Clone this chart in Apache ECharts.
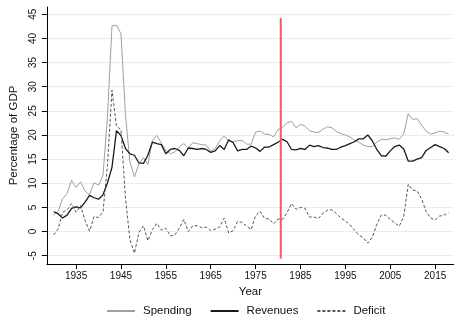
<!DOCTYPE html>
<html>
<head>
<meta charset="utf-8">
<script src="https://cdn.jsdelivr.net/npm/echarts@6/dist/echarts.min.js"></script>
<style>
  html, body { margin: 0; padding: 0; background: #fff; }
  #chart { width: 454px; height: 317px; }
</style>
</head>
<body>
<div id="chart"></div>
<script>
// years 1930 .. 2018
var firstYear = 1930;

var spending = [3.4, 4.2, 6.8, 7.9, 10.6, 9.1, 10.3, 8.4, 7.6, 10.1,
    9.6, 11.7, 23.8, 42.6, 42.7, 41.0, 24.2, 14.4, 11.3, 14.0,
    15.3, 13.9, 18.9, 19.9, 18.3, 16.8, 16.1, 16.5, 17.5, 18.2,
    17.3, 18.4, 18.2, 18.0, 17.9, 16.6, 17.2, 18.8, 19.8, 18.7,
    18.6, 18.8, 18.9, 18.1, 18.1, 20.6, 20.8, 20.2, 20.1, 19.6,
    21.1, 21.6, 22.5, 22.8, 21.5, 22.2, 21.8, 20.9, 20.6, 20.5,
    21.2, 21.7, 21.5, 20.7, 20.3, 20.0, 19.6, 18.9, 18.5, 17.9,
    17.6, 17.6, 18.5, 19.1, 19.0, 19.2, 19.4, 19.1, 20.2, 24.4,
    23.2, 23.4, 22.0, 20.8, 20.2, 20.4, 20.8, 20.6, 20.2];

var revenues = [4.1, 3.7, 2.8, 3.4, 4.8, 5.1, 4.9, 6.1, 7.5, 7.0,
    6.7, 7.6, 10.1, 13.3, 20.9, 19.9, 17.2, 16.1, 15.8, 14.2,
    14.1, 15.8, 18.5, 18.2, 18.0, 16.1, 17.0, 17.2, 16.8, 15.7,
    17.3, 17.2, 17.0, 17.2, 17.0, 16.4, 16.7, 17.8, 17.0, 19.0,
    18.4, 16.7, 17.0, 17.0, 17.7, 17.3, 16.6, 17.5, 17.5, 18.0,
    18.5, 19.1, 18.6, 17.0, 16.9, 17.2, 17.0, 17.9, 17.6, 17.8,
    17.4, 17.3, 17.0, 17.0, 17.5, 17.8, 18.2, 18.6, 19.2, 19.2,
    20.0, 18.8, 17.0, 15.7, 15.6, 16.7, 17.6, 17.9, 17.1, 14.6,
    14.6, 15.0, 15.3, 16.8, 17.4, 18.0, 17.6, 17.2, 16.3];

var deficit = [-0.7, 0.5, 4.0, 4.5, 5.8, 4.0, 5.4, 2.3, 0.1, 3.1,
    2.9, 4.1, 13.7, 29.3, 21.8, 21.1, 7.0, -1.7, -4.5, -0.2,
    1.2, -1.9, 0.4, 1.7, 0.3, 0.7, -0.9, -0.7, 0.7, 2.5,
    0.0, 1.2, 1.2, 0.8, 0.9, 0.2, 0.5, 1.0, 2.8, -0.3,
    0.2, 2.1, 1.9, 1.1, 0.4, 3.3, 4.2, 2.7, 2.6, 1.6,
    2.6, 2.5, 3.9, 5.8, 4.6, 5.0, 4.8, 3.0, 3.0, 2.7,
    3.8, 4.4, 4.5, 3.7, 2.8, 2.2, 1.4, 0.3, -0.7, -1.3,
    -2.4, -1.2, 1.5, 3.4, 3.4, 2.5, 1.8, 1.1, 3.1, 9.8,
    8.6, 8.4, 6.7, 4.1, 2.8, 2.4, 3.2, 3.4, 3.9];

var xTicks = [1935, 1945, 1955, 1965, 1975, 1985, 1995, 2005, 2015];
var yTicks = [-5, 0, 5, 10, 15, 20, 25, 30, 35, 40, 45];

// vertical red marker
var markerYear = 1980.6;
var markerSpan = [-5.6, 44.2];

function pairs(values) {
    var out = [];
    for (var i = 0; i < values.length; i++) {
        out.push([firstYear + i, values[i]]);
    }
    return out;
}

var chart = echarts.init(document.getElementById('chart'), null, {renderer: 'canvas'});

var font = 'Liberation Sans, Arial, sans-serif';

var option = {
    animation: false,
    backgroundColor: '#fff',
    grid: {left: 42, right: 0, top: 7, bottom: 53, containLabel: false},
    legend: {
        left: 106,
        top: 305,
        padding: 0,
        itemWidth: 28,
        itemHeight: 12,
        itemGap: 18,
        itemStyle: {opacity: 0},
        textStyle: {fontFamily: font, color: '#111', fontSize: 11.5, padding: [0, 0, 0, 3]},
        data: ['Spending', 'Revenues', 'Deficit']
    },
    xAxis: {
        type: 'value',
        min: 1928.5,
        max: 2019.2,
        name: 'Year',
        nameLocation: 'middle',
        nameGap: 14,
        nameTextStyle: {fontFamily: font, color: '#111', fontSize: 11.5},
        axisLine: {show: true, onZero: false, lineStyle: {color: '#000', width: 1}},
        axisTick: {show: true, length: 5, customValues: xTicks, lineStyle: {color: '#000'}},
        axisLabel: {
            customValues: xTicks, margin: 7, fontSize: 10, fontFamily: font, color: '#111',
            formatter: function (v) { return String(v); }
        },
        splitLine: {show: false}
    },
    yAxis: {
        type: 'value',
        min: -6.72,
        max: 46.5,
        name: 'Percentage of GDP',
        nameLocation: 'middle',
        nameGap: 24,
        nameTextStyle: {fontFamily: font, color: '#111', fontSize: 11.5},
        axisLine: {show: true, onZero: false, lineStyle: {color: '#000', width: 1}},
        axisTick: {show: true, length: 5, customValues: yTicks, lineStyle: {color: '#000'}},
        axisLabel: {
            customValues: yTicks, rotate: 90, margin: 9, fontSize: 10, fontFamily: font, color: '#111',
            formatter: function (v) { return String(v); }
        },
        splitLine: {show: true, lineStyle: {color: '#e6eef0', width: 1}}
    },
    series: [
        {
            name: 'Spending',
            type: 'line',
            data: pairs(spending),
            symbol: 'none',
            color: '#a0a0a0',
            lineStyle: {color: '#a0a0a0', width: 1}
        },
        {
            name: 'Revenues',
            type: 'line',
            data: pairs(revenues),
            symbol: 'none',
            color: '#1a1a1a',
            lineStyle: {color: '#1a1a1a', width: 1.3}
        },
        {
            name: 'Deficit',
            type: 'line',
            data: pairs(deficit),
            symbol: 'none',
            color: '#555',
            lineStyle: {color: '#555', width: 1, type: [3, 2]}
        },
        {
            name: 'marker',
            type: 'line',
            data: [[markerYear, markerSpan[0]], [markerYear, markerSpan[1]]],
            symbol: 'none',
            silent: true,
            lineStyle: {color: '#ee5a62', width: 2}
        }
    ]
};

chart.setOption(option);
</script>
</body>
</html>
